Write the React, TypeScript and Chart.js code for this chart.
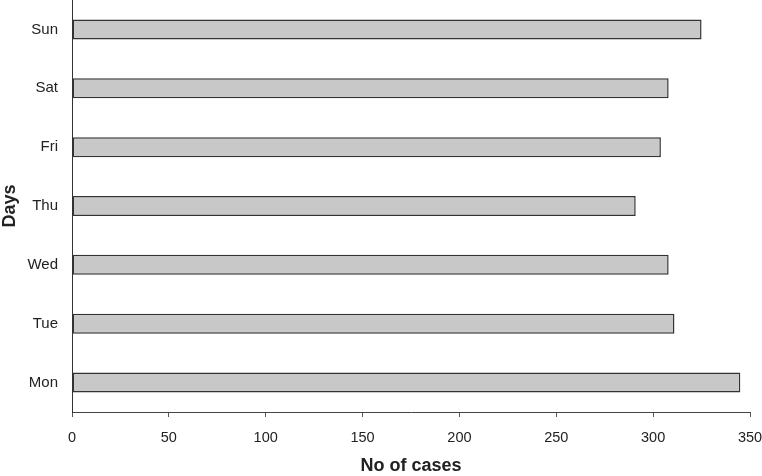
import React, { useEffect, useRef } from "react";
import { Chart, registerables } from "chart.js";

Chart.register(...registerables);

const days = ["Sun", "Sat", "Fri", "Thu", "Wed", "Tue", "Mon"];
const cases = [325, 308, 304, 291, 308, 311, 345];
const xTicksMax = 350;
const xTickStep = 50;

export default function App() {
  const ref = useRef<HTMLCanvasElement | null>(null);

  useEffect(() => {
    document.body.style.margin = "0";
    const ctx = ref.current!;
    const chart = new Chart(ctx, {
      type: "bar",
      data: {
        labels: days,
        datasets: [
          {
            data: cases,
            backgroundColor: "#c8c8c8",
            borderColor: "#333333",
            borderWidth: 1.5,
            borderSkipped: false,
            categoryPercentage: 1,
            barPercentage: 0.34,
          },
        ],
      },
      options: {
        indexAxis: "y",
        responsive: false,
        animation: false,
        layout: { padding: { left: 0, right: 12, top: 0, bottom: 0 } },
        plugins: { legend: { display: false }, tooltip: { enabled: false } },
        scales: {
          x: {
            min: 0,
            max: xTicksMax,
            ticks: {
              stepSize: xTickStep,
              color: "#222",
              padding: 12,
              font: { family: "Liberation Sans, Arial", size: 14.5 },
            },
            grid: {
              display: true,
              drawOnChartArea: false,
              drawTicks: true,
              tickLength: 5,
              color: "#555",
            },
            border: { display: true, color: "#444", width: 1 },
            title: {
              display: true,
              text: "No of cases",
              color: "#222",
              padding: { top: 0, bottom: 0 },
              font: { family: "Liberation Sans, Arial", size: 18, weight: "bold", lineHeight: 1.1 },
            },
            afterFit: (s: any) => {
              s.height = 64;
              s.paddingLeft = 0;
              s.paddingRight = 0;
            },
          },
          y: {
            ticks: {
              color: "#222",
              padding: 14,
              font: { family: "Liberation Sans, Arial", size: 15 },
            },
            grid: { display: false, drawTicks: false },
            border: { display: true, color: "#333", width: 1 },
            title: {
              display: true,
              text: "Days",
              color: "#222",
              padding: { top: 0, bottom: 0 },
              font: { family: "Liberation Sans, Arial", size: 18, weight: "bold", lineHeight: 1.1 },
            },
            afterFit: (s: any) => {
              s.width = 72;
              s.paddingTop = 0;
              s.paddingBottom = 0;
            },
          },
        },
      },
    } as any);
    return () => chart.destroy();
  }, []);

  return (
    <div style={{ width: 762, height: 476 }}>
      <canvas ref={ref} width={762} height={476} style={{ display: "block" }} />
    </div>
  );
}
